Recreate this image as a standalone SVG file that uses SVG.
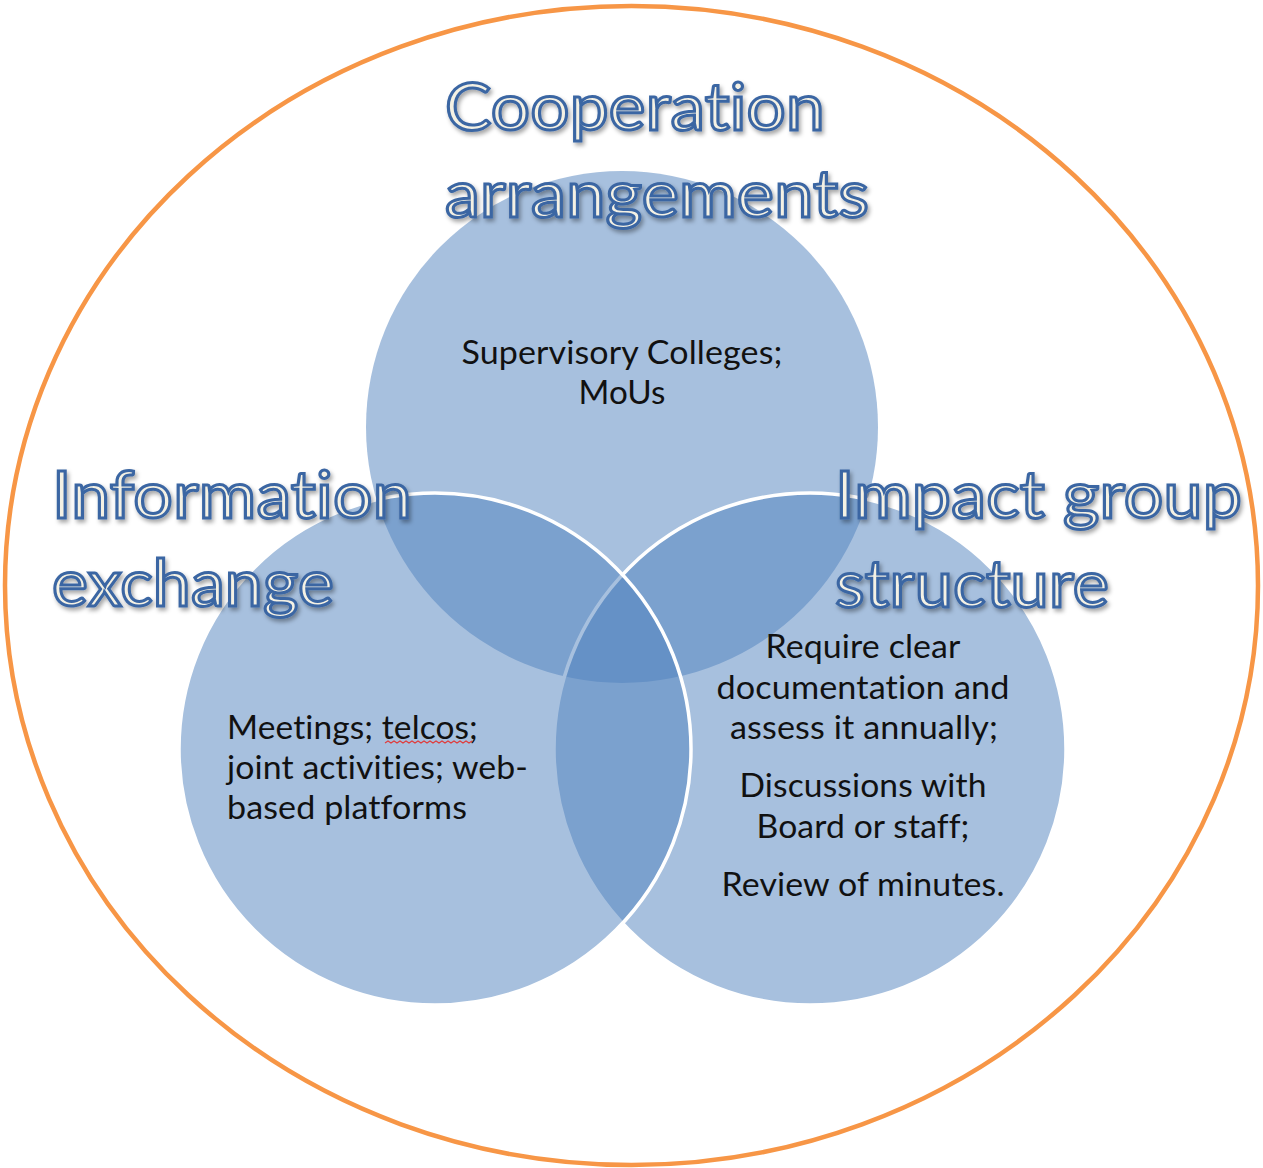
<svg xmlns="http://www.w3.org/2000/svg" width="1263" height="1168" viewBox="0 0 1263 1168">
  <defs>
    <filter id="shadow" x="-10%" y="-20%" width="120%" height="150%">
      <feDropShadow dx="2" dy="3" stdDeviation="2" flood-color="#000" flood-opacity="0.35"/>
    </filter>
    <style>
      .circle { fill: #4F81BD; fill-opacity: 0.5; }
      .edge { fill: none; stroke: #FFFFFF; stroke-width: 3.5; }
      .title { font-family: Lato, "Open Sans", sans-serif; font-size: 66px; font-variant-ligatures: none; font-feature-settings: "liga" 0, "clig" 0; letter-spacing: 0.2px; fill: #F4F1E4; stroke: #3B66A3; stroke-width: 3; filter: url(#shadow); }
      .body { font-family: Lato, "Open Sans", sans-serif; font-size: 32px; font-variant-ligatures: none; font-feature-settings: "liga" 0, "clig" 0; letter-spacing: 0.1px; fill: #111111; }
      .mid { text-anchor: middle; }
    </style>
  </defs>
  <rect width="1263" height="1168" fill="#FFFFFF"/>
  <g id="outer">
    <ellipse cx="631.5" cy="585.5" rx="626.5" ry="579.5" fill="none" stroke="#F79646" stroke-width="4.5"/>
  </g>
  <g id="connectors"></g>
  <g id="node-cooperation">
    <circle class="circle" cx="622" cy="427" r="256"/>
  </g>
  <g id="node-impact">
    <circle class="circle" cx="810" cy="749" r="256"/>
    <circle class="edge" cx="810" cy="749" r="256"/>
  </g>
  <g id="node-information">
    <circle class="circle" cx="435" cy="749" r="256"/>
    <circle class="edge" cx="435" cy="749" r="256"/>
  </g>
  <g id="texts-cooperation">
    <text class="title" x="445" y="130" textLength="380" lengthAdjust="spacingAndGlyphs">Cooperation</text>
    <text class="title" x="445" y="217" textLength="424" lengthAdjust="spacingAndGlyphs">arrangements</text>
    <text class="body mid" x="622" y="364" textLength="321" lengthAdjust="spacingAndGlyphs">Supervisory Colleges;</text>
    <text class="body mid" x="622" y="404" textLength="87" lengthAdjust="spacingAndGlyphs">MoUs</text>
  </g>
  <g id="texts-information">
    <text class="title" x="52" y="518" textLength="360" lengthAdjust="spacingAndGlyphs">Information</text>
    <text class="title" x="52" y="606" textLength="282" lengthAdjust="spacingAndGlyphs">exchange</text>
    <text class="body" x="227" y="739" textLength="251" lengthAdjust="spacingAndGlyphs">Meetings; telcos;</text>
    <text class="body" x="227" y="779" textLength="301" lengthAdjust="spacingAndGlyphs">joint activities; web-</text>
    <text class="body" x="227" y="819" textLength="240" lengthAdjust="spacingAndGlyphs">based platforms</text>
    <path d="M385 743 l3 -2 l3 2 l3 -2 l3 2 l3 -2 l3 2 l3 -2 l3 2 l3 -2 l3 2 l3 -2 l3 2 l3 -2 l3 2 l3 -2 l3 2 l3 -2 l3 2 l3 -2 l3 2 l3 -2 l3 2 l3 -2 l3 2 l3 -2 l3 2 l3 -2 l3 2 l3 -2" fill="none" stroke="#E03C3C" stroke-width="1.2"/>
  </g>
  <g id="texts-impact">
    <text class="title" x="835" y="518" textLength="407" lengthAdjust="spacingAndGlyphs">Impact group</text>
    <text class="title" x="835" y="607" textLength="274" lengthAdjust="spacingAndGlyphs">structure</text>
    <text class="body mid" x="863" y="658" textLength="195" lengthAdjust="spacingAndGlyphs">Require clear</text>
    <text class="body mid" x="863" y="699" textLength="293" lengthAdjust="spacingAndGlyphs">documentation and</text>
    <text class="body mid" x="864" y="739" textLength="268" lengthAdjust="spacingAndGlyphs">assess it annually;</text>
    <text class="body mid" x="863" y="797" textLength="247" lengthAdjust="spacingAndGlyphs">Discussions with</text>
    <text class="body mid" x="863" y="838" textLength="213" lengthAdjust="spacingAndGlyphs">Board or staff;</text>
    <text class="body mid" x="863" y="896" textLength="283" lengthAdjust="spacingAndGlyphs">Review of minutes.</text>
  </g>
</svg>
